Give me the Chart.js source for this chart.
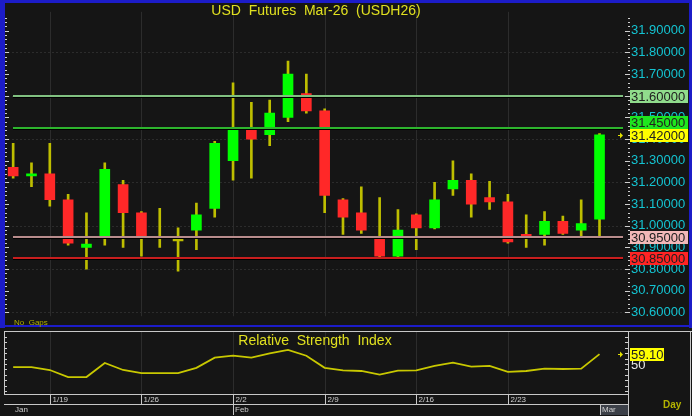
<!DOCTYPE html>
<html>
<head>
<meta charset="utf-8">
<script src="https://cdn.jsdelivr.net/npm/chart.js@4.4.1/dist/chart.umd.min.js"></script>
<style>
html, body { margin: 0; padding: 0; background: #151515; overflow: hidden; }
#wrap { position: relative; width: 692px; height: 416px; }
canvas { position: absolute; left: 0; }
#price { top: 0; }
#rsi { top: 328px; }
</style>
</head>
<body>
<div id="wrap">
  <canvas id="price" width="692" height="328"></canvas>
  <canvas id="rsi" width="692" height="88"></canvas>
</div>
<script>
// trading days shown on the chart
const dates = ['1/15','1/16','1/19','1/20','1/21','1/22','1/23','1/26','1/27','1/28','1/29','1/30',
  '2/2','2/3','2/4','2/5','2/6','2/9','2/10','2/11','2/12','2/13','2/16','2/17','2/18','2/19','2/20',
  '2/23','2/24','2/25','2/26','2/27','3/2'];

const opens  = [31.27,31.23,31.24,31.12,30.90,30.94,31.19,31.06,30.95,30.93,30.98,31.08,31.30,31.45,31.42,31.50,31.61,
  31.53,31.12,31.06,30.95,30.86,31.05,30.99,31.17,31.21,31.13,31.11,30.96,30.96,31.02,30.98,31.03];
const highs  = [31.38,31.29,31.38,31.145,31.06,31.29,31.21,31.065,31.08,30.99,31.105,31.39,31.66,31.57,31.58,31.76,31.70,
  31.54,31.125,31.18,31.13,31.075,31.055,31.20,31.30,31.24,31.205,31.145,31.05,31.065,31.045,31.12,31.425];
const lows   = [31.22,31.18,31.09,30.91,30.80,30.91,30.90,30.86,30.90,30.79,30.89,31.04,31.21,31.22,31.37,31.48,31.52,
  31.06,30.96,30.965,30.855,30.855,30.89,30.985,31.14,31.04,31.075,30.92,30.90,30.91,30.96,30.95,30.95];
const closes = [31.23,31.24,31.12,30.92,30.915,31.26,31.06,30.94,30.94,30.93,31.05,31.38,31.45,31.40,31.52,31.70,31.53,
  31.14,31.04,30.98,30.86,30.98,30.99,31.12,31.21,31.10,31.11,30.925,30.94,31.02,30.965,31.01,31.42];

const rsi = [47.2,47.2,44.5,38,38,51,44.5,41.7,41.7,41.7,46.5,55.8,57.6,55.8,59.8,63,57.6,
  46.5,44.2,43.6,40.2,43.9,44.2,48.2,51.2,47.6,48.2,42.7,43.6,45.7,45.4,45.7,59.1];

const refLevels = [31.60, 31.45, 30.95, 30.85];
const priceTicks = [30.6,30.7,30.8,30.9,31.0,31.1,31.2,31.3,31.4,31.5,31.6,31.7,31.8,31.9];
const weekLabels = ['1/19','1/26','2/2','2/9','2/16','2/23'];
const monthLabels = ['Jan','Feb','Mar'];
const monthStarts = ['1/15','2/2','3/2'];

// styles
const BG = '#151515';
const FONT = 'Arial, "Liberation Sans", sans-serif';
const UP = '#00ff00', DOWN = '#ff2828', WICK = '#bebe00';
const refLine = ['#80c080', '#2db42d', '#b88c8c', '#c81e1e'];
const refTag = ['#90dc8c', '#1ee61e', '#f2b8b8', '#ff2424'];
const LAST_TAG = '#ffff00';

const slots = dates.concat(['']);
const bodyData = opens.map((o, i) => [o, closes[i]]);
const wickData = lows.map((l, i) => [l, highs[i]]);
const bodyColors = opens.map((o, i) => closes[i] > o ? UP : (closes[i] < o ? DOWN : WICK));

function hline(ctx, x0, x1, y) { ctx.beginPath(); ctx.moveTo(x0, y); ctx.lineTo(x1, y); ctx.stroke(); }
function vline(ctx, x, y0, y1) { ctx.beginPath(); ctx.moveTo(x, y0); ctx.lineTo(x, y1); ctx.stroke(); }

function tag(ctx, x, y, w, text, bg) {
  ctx.fillStyle = bg;
  ctx.fillRect(x, Math.round(y) - 6, w, 13);
  ctx.fillStyle = '#202020';
  ctx.textAlign = 'left';
  ctx.textBaseline = 'middle';
  ctx.fillText(text, x + 1, Math.round(y) + 1);
}

function arrow(ctx, x, y) {
  ctx.fillStyle = '#e0e000';
  ctx.fillRect(x, Math.round(y), 3, 1);
  ctx.beginPath();
  ctx.moveTo(x + 2, Math.round(y) - 2.5);
  ctx.lineTo(x + 5, Math.round(y) + 0.5);
  ctx.lineTo(x + 2, Math.round(y) + 3.5);
  ctx.fill();
}

function weekGrid(chart, top, bottom) {
  const ctx = chart.ctx, x = chart.scales.x;
  ctx.strokeStyle = '#2c2c2c';
  ctx.lineWidth = 1;
  weekLabels.forEach(d => {
    const px = Math.round(x.getPixelForValue(dates.indexOf(d))) + 0.5;
    vline(ctx, px, top, bottom);
  });
}

const priceDecor = {
  id: 'priceDecor',
  beforeDraw(chart) {
    const { ctx, chartArea: a, scales: { y } } = chart;
    ctx.save();
    ctx.fillStyle = BG;
    ctx.fillRect(0, 0, chart.width, chart.height);
    weekGrid(chart, a.top, a.bottom);
    ctx.setLineDash([2, 2]);
    for (let k = 306; k <= 318; k += 2) {
      hline(ctx, a.left, a.right, Math.round(y.getPixelForValue(k / 10)) + 0.5);
    }
    ctx.restore();
  },
  afterDatasetsDraw(chart) {
    const { ctx, chartArea: a, scales: { x, y } } = chart;
    const x0 = Math.round(x.getPixelForValue(0));
    ctx.save();
    refLevels.forEach((v, i) => {
      const py = Math.round(y.getPixelForValue(v));
      ctx.fillStyle = '#000';
      ctx.fillRect(x0, py + 1, a.right - 4 - x0, 1);
      ctx.fillStyle = refLine[i];
      ctx.fillRect(x0, py - 1, a.right - 4 - x0, 2);
    });
    ctx.restore();
  },
  afterDraw(chart) {
    const { ctx, chartArea: a, scales: { y } } = chart;
    ctx.save();
    // ticks on both edges
    ctx.fillStyle = '#d0d0d0';
    for (let k = 1530; k <= 1598; k++) {
      const v = k / 50;
      const py = Math.round(y.getPixelForValue(v));
      if (py < a.top || py > a.bottom) continue;
      const major = k % 5 === 0;
      ctx.fillRect(5, py, major ? 4 : 2, 1);
      ctx.fillRect(major ? 625 : 628, py, major ? 5 : 2, 1);
    }
    // frame
    ctx.fillStyle = '#1c1cc8';
    ctx.fillRect(0, 0, 692, 3);
    ctx.fillRect(0, 0, 5, 328);
    ctx.fillRect(689, 0, 3, 328);
    ctx.fillRect(0, 325, 692, 2);
    // price tags, pushed apart when they collide
    ctx.font = '13px ' + FONT;
    const tags = refLevels.map((v, i) => ({ v, bg: refTag[i] }));
    const last = closes[closes.length - 1];
    tags.push({ v: last, bg: LAST_TAG });
    tags.sort((p, q) => p.v - q.v);
    let prev = Infinity;
    tags.forEach(t => {
      let py = y.getPixelForValue(t.v);
      if (py > prev - 13) py = prev - 13;
      prev = py;
      tag(ctx, 630, py, 58, t.v.toFixed(5), t.bg);
    });
    arrow(ctx, 618, y.getPixelForValue(last));
    // title
    ctx.fillStyle = '#e0e020';
    ctx.font = '14px ' + FONT;
    ctx.textAlign = 'center';
    ctx.textBaseline = 'middle';
    ctx.fillText('USD  Futures  Mar-26  (USDH26)', 316, 11);
    ctx.fillStyle = '#b0b000';
    ctx.font = '8px ' + FONT;
    ctx.textAlign = 'left';
    ctx.fillText('No  Gaps', 14, 323);
    ctx.restore();
  }
};

new Chart(document.getElementById('price'), {
  type: 'bar',
  data: {
    labels: slots,
    datasets: [
      { data: bodyData, backgroundColor: bodyColors, barThickness: 10, minBarLength: 2,
        grouped: false, order: 0, borderWidth: 0 },
      { data: wickData, backgroundColor: WICK, barThickness: 2,
        grouped: false, order: 1, borderWidth: 0 }
    ]
  },
  options: {
    responsive: false,
    devicePixelRatio: 1,
    animation: false,
    events: [],
    layout: { padding: { left: 4, right: 0, top: 3, bottom: 3 } },
    plugins: { legend: { display: false }, tooltip: { enabled: false } },
    scales: {
      x: { type: 'category', display: false, offset: true },
      y: {
        position: 'right',
        min: 30.5826,
        max: 31.9873,
        afterBuildTicks: s => { s.ticks = priceTicks.map(v => ({ value: v })); },
        afterFit: s => { s.width = 65; },
        grid: { display: false, drawTicks: false },
        border: { display: false },
        ticks: {
          autoSkip: false,
          padding: 4,
          color: '#14c4d2',
          font: { family: FONT, size: 13 },
          callback: v => Number(v).toFixed(5)
        }
      }
    }
  },
  plugins: [priceDecor]
});

const rsiDecor = {
  id: 'rsiDecor',
  beforeDraw(chart) {
    const { ctx, chartArea: a } = chart;
    ctx.save();
    ctx.fillStyle = BG;
    ctx.fillRect(0, 0, chart.width, chart.height);
    weekGrid(chart, a.top, a.bottom);
    ctx.restore();
  },
  afterDraw(chart) {
    const { ctx, chartArea: a, scales: { x, y } } = chart;
    ctx.save();
    ctx.strokeStyle = '#c8c8c8';
    ctx.lineWidth = 1;
    hline(ctx, 4, 692, 3.5);
    vline(ctx, 4.5, 3, 66);
    vline(ctx, 628.5, 3, 88);
    vline(ctx, 690.5, 3, 88);
    hline(ctx, 4, 628, 66.5);
    hline(ctx, 4, 628, 76.5);
    // ticks
    ctx.fillStyle = '#d0d0d0';
    for (let v = 25; v <= 80; v += 5) {
      const py = Math.round(y.getPixelForValue(v));
      ctx.fillRect(5, py, 2, 1);
      ctx.fillRect(625, py, 3, 1);
    }
    // date strip
    ctx.font = '8px ' + FONT;
    ctx.textAlign = 'left';
    ctx.textBaseline = 'middle';
    weekLabels.forEach(d => {
      const px = Math.round(x.getPixelForValue(dates.indexOf(d))) + 0.5;
      vline(ctx, px, 66, 76);
      ctx.fillStyle = '#d0d0d0';
      ctx.fillText(d, px + 2, 72);
    });
    monthLabels.forEach((m, i) => {
      const idx = dates.indexOf(monthStarts[i]);
      const px = Math.round(x.getPixelForValue(idx)) + 0.5;
      if (idx === dates.length - 1) {
        ctx.fillStyle = '#3c4048';
        ctx.fillRect(px, 77, 628 - px, 10);
      }
      if (i > 0) vline(ctx, px, 76, 87);
      ctx.fillStyle = '#d0d0d0';
      ctx.fillText(m, px + 1.5, 82);
    });
    // title
    ctx.fillStyle = '#e0e020';
    ctx.font = '14px ' + FONT;
    ctx.textAlign = 'center';
    ctx.fillText('Relative  Strength  Index', 315, 13);
    // value labels
    ctx.font = '13px ' + FONT;
    ctx.textAlign = 'left';
    ctx.fillStyle = '#e8e8e8';
    ctx.fillText('50', 631, Math.round(y.getPixelForValue(50)) + 1);
    const last = rsi[rsi.length - 1];
    tag(ctx, 630, y.getPixelForValue(last), 34, last.toFixed(2), LAST_TAG);
    arrow(ctx, 618, y.getPixelForValue(last));
    ctx.fillStyle = '#b4b400';
    ctx.font = 'bold 10px ' + FONT;
    ctx.fillText('Day', 663, 77);
    ctx.restore();
  }
};

new Chart(document.getElementById('rsi'), {
  type: 'line',
  data: {
    labels: slots,
    datasets: [{ data: rsi, borderColor: '#c8c800', borderWidth: 1.8, pointRadius: 0, tension: 0, fill: false }]
  },
  options: {
    responsive: false,
    devicePixelRatio: 1,
    animation: false,
    events: [],
    layout: { padding: { left: 4, right: 65, top: 3, bottom: 22 } },
    plugins: { legend: { display: false }, tooltip: { enabled: false } },
    scales: {
      x: { type: 'category', display: false, offset: true },
      y: { display: false, min: 22.48, max: 80.28 }
    }
  },
  plugins: [rsiDecor]
});
</script>
</body>
</html>
